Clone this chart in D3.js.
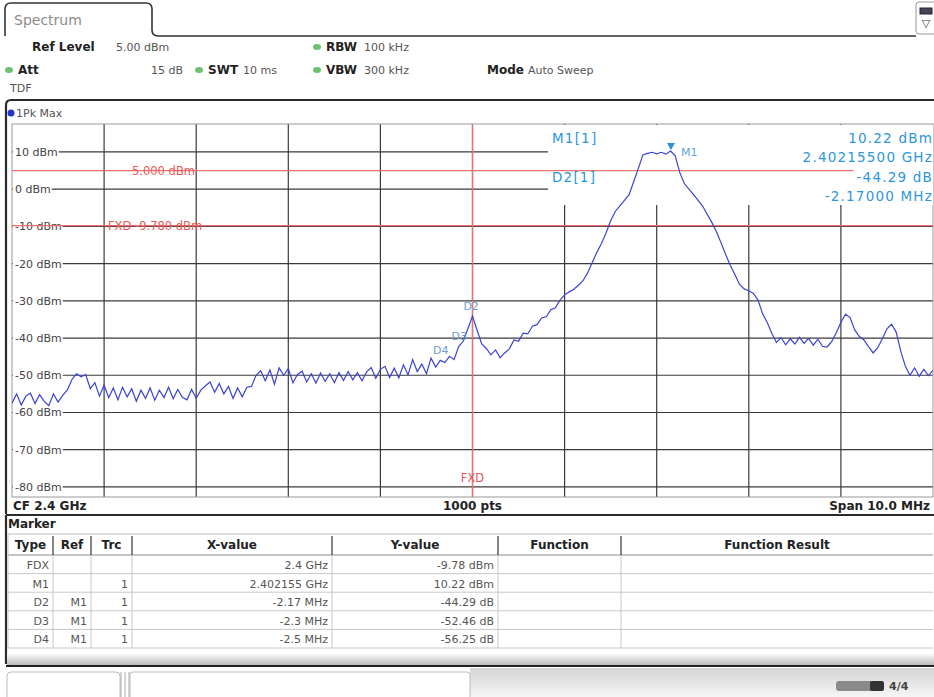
<!DOCTYPE html>
<html lang="en">
<head>
<meta charset="UTF-8">
<title>Spectrum</title>
<script src="https://d3js.org/d3.v7.min.js"></script>
<style>
    html, body { margin: 0; background: #fff; }
    body { width: 934px; height: 697px; overflow: hidden; }
    svg text { font-family: "DejaVu Sans", Verdana, sans-serif; }
    .key { font-weight: bold; font-size: 12px; fill: #222; }
    .val { font-size: 11px; fill: #555; }
    .tick { font-size: 11px; fill: #444; }
    .red { font-size: 11.5px; fill: #e85a5a; }
    .readout { font-size: 13.5px; fill: #2d96dc; letter-spacing: 1.2px; }
    .foot { font-weight: bold; font-size: 12px; fill: #222; }
    .th { font-weight: bold; font-size: 12px; fill: #222; }
    .td { font-size: 11px; fill: #555; }
</style>
</head>
<body>
<svg id="screen" width="934" height="697"></svg>
<script>
// ---- data ----
const centerGHz = 2.4;
const spanMHz = 10;
const sweepPts = 1000;
const traceStepMHz = 0.05;   // one value every 0.05 MHz from CF - span/2
const traceDbm = [
    -57.5, -55.0, -58.0, -55.6, -54.8, -57.6, -55.2, -57.0, -58.2, -55.0,
    -57.2, -55.4, -54.0, -51.2, -49.6, -50.4, -49.8, -53.6, -52.0, -55.6,
    -52.6, -56.0, -53.4, -56.6, -53.2, -55.8, -53.6, -57.0, -54.0, -56.2,
    -53.4, -56.7, -54.0, -56.0, -53.2, -56.3, -53.8, -55.9, -56.6, -53.8,
    -56.2, -54.0, -52.8, -51.8, -54.6, -52.2, -55.0, -53.0, -56.2, -53.4,
    -55.8, -53.2, -53.0, -50.0, -48.8, -51.5, -48.6, -52.4, -48.0, -50.0,
    -48.2, -52.0, -49.8, -48.9, -51.8, -49.6, -52.1, -49.4, -51.6, -49.6,
    -52.0, -49.3, -51.4, -49.0, -51.2, -49.3, -51.5, -49.1, -47.9, -50.8,
    -48.4, -47.6, -50.6, -48.1, -50.7, -47.2, -49.9, -45.8, -49.0, -47.0,
    -49.6, -45.4, -47.8, -46.0, -46.6, -44.9, -45.8, -42.3, -40.8, -37.5,
    -34.1, -37.9, -41.6, -42.8, -44.5, -43.2, -45.3, -44.0, -42.9, -40.5,
    -40.9, -38.7, -38.9, -36.8, -36.4, -34.6, -34.3, -32.4, -31.9, -29.8,
    -28.4, -27.6, -26.9, -25.8, -24.6, -22.5, -19.7, -17.0, -14.6, -11.8,
    -8.5, -6.0, -4.5, -3.0, -1.5, 2.0, 5.5, 9.2, 9.6, 9.9,
    9.5, 9.9, 9.4, 10.22, 9.0, 4.5, 1.5, 0.0, -1.5, -3.0,
    -4.6, -6.8, -9.0, -11.5, -14.5, -17.6, -20.5, -23.0, -25.6, -26.8,
    -27.3, -28.0, -29.8, -33.5, -35.8, -38.7, -41.2, -39.9, -41.8, -40.2,
    -41.6, -39.8, -41.4, -40.1, -41.9, -40.3, -42.2, -42.4, -41.0, -38.6,
    -35.8, -33.6, -34.5, -37.8, -39.6, -40.5, -42.3, -44.0, -42.6, -40.2,
    -37.5, -36.3, -38.4, -43.5, -47.6, -50.0, -48.0, -50.3, -48.4, -50.1,
    -48.7
];
const yTicks = [10, 0, -10, -20, -30, -40, -50, -60, -70, -80];
const yTop = 17.5, yBottom = -82.7;
const displayLineDbm = 5.0;
const fxdDbm = -9.78;
const fxdGHz = 2.4;

const m1GHz = 2.402155;
const m1Dbm = 10.22;
const deltaNames = ["D2", "D3", "D4"];
const deltaMHz = [-2.17, -2.3, -2.5];
const deltaDb = [-44.29, -52.46, -56.25];

const setupRow1 = [["Ref Level", "5.00 dBm"], ["RBW", "100 kHz"]];
const setupRow2 = [["Att", "15 dB"], ["SWT", "10 ms"], ["VBW", "300 kHz"], ["Mode", "Auto Sweep"]];

const tableHeads = ["Type", "Ref", "Trc", "X-value", "Y-value", "Function", "Function Result"];
const markerType = ["FDX", "M1", "D2", "D3", "D4"];
const markerRef = ["", "", "M1", "M1", "M1"];
const markerTrc = ["", "1", "1", "1", "1"];
const markerX = ["2.4 GHz", "2.402155 GHz", "-2.17 MHz", "-2.3 MHz", "-2.5 MHz"];
const markerY = ["-9.78 dBm", "10.22 dBm", "-44.29 dB", "-52.46 dB", "-56.25 dB"];

// ---- drawing ----
const svg = d3.select("#screen");
const plot = { left: 12, right: 933, top: 124, bottom: 497 };

const fStart = centerGHz - spanMHz / 2000;
const fStop = centerGHz + spanMHz / 2000;
const x = d3.scaleLinear().domain([fStart, fStop]).range([plot.left, plot.right]);
const y = d3.scaleLinear().domain([yTop, yBottom]).range([plot.top, plot.bottom]);

// tab + top bar
svg.append("path")
    .attr("d", "M5,36 V9 Q5,3 11,3 H146 Q152,3 152,9 V30 Q152,36 158,36 H916")
    .attr("fill", "none").attr("stroke", "#333").attr("stroke-width", 1.6);
svg.append("text").attr("x", 14).attr("y", 25).text("Spectrum")
    .style("font-size", "14px").style("fill", "#8c8c8c");
svg.append("rect").attr("x", 916).attr("y", 2).attr("width", 22).attr("height", 32).attr("rx", 3)
    .attr("fill", "#fff").attr("stroke", "#999");
svg.append("rect").attr("x", 920).attr("y", 8).attr("width", 12).attr("height", 6)
    .attr("fill", "#445").attr("stroke", "#223");
svg.append("text").attr("x", 926).attr("y", 27).attr("text-anchor", "middle").text("▽")
    .style("font-size", "11px").style("fill", "#445");

// setup summary
function setupItem(k, v, kx, vx, yy, dot) {
    if (dot) svg.append("ellipse").attr("cx", kx - 9).attr("cy", yy - 4).attr("rx", 4).attr("ry", 3).attr("fill", "#6cc070");
    svg.append("text").attr("class", "key").attr("x", kx).attr("y", yy).text(k);
    svg.append("text").attr("class", "val").attr("x", vx).attr("y", yy).text(v);
}
setupItem(setupRow1[0][0], setupRow1[0][1], 32, 116, 51, false);
setupItem(setupRow1[1][0], setupRow1[1][1], 326, 364, 51, true);
setupItem(setupRow2[0][0], setupRow2[0][1], 18, 151, 74, true);
setupItem(setupRow2[1][0], setupRow2[1][1], 208, 243, 74, true);
setupItem(setupRow2[2][0], setupRow2[2][1], 326, 364, 74, true);
setupItem(setupRow2[3][0], setupRow2[3][1], 487, 528, 74, false);
svg.append("text").attr("class", "val").attr("x", 10).attr("y", 92).text("TDF");

// diagram window frame
svg.append("path").attr("d", "M6,514 V105 Q6,100 11,100 H934")
    .attr("fill", "none").attr("stroke", "#2a2a2a").attr("stroke-width", 2.2);
svg.append("circle").attr("cx", 11).attr("cy", 113).attr("r", 3.5).attr("fill", "#2233cc");
svg.append("text").attr("class", "val").attr("x", 16).attr("y", 117).text("1Pk Max");

// grid
const grid = svg.append("g");
grid.selectAll(".hg").data(yTicks).enter().append("line")
    .attr("x1", plot.left).attr("x2", plot.right)
    .attr("y1", d => y(d)).attr("y2", d => y(d))
    .attr("stroke", "#3a3a3a").attr("stroke-width", 1.2);
const divs = d3.range(1, 10).map(i => fStart + i * (fStop - fStart) / 10);
grid.selectAll(".vg").data(divs).enter().append("line")
    .attr("x1", d => x(d)).attr("x2", d => x(d))
    .attr("y1", plot.top).attr("y2", plot.bottom)
    .attr("stroke", "#3a3a3a").attr("stroke-width", 1.2);
svg.append("rect").attr("x", plot.left).attr("y", plot.top)
    .attr("width", plot.right - plot.left).attr("height", plot.bottom - plot.top)
    .attr("fill", "none").attr("stroke", "#999").attr("stroke-width", 1);

// marker readout area covers the top right of the grid
svg.append("rect").attr("x", 548).attr("y", plot.top + 1).attr("width", plot.right - 548).attr("height", 80)
    .attr("fill", "#fff");

// y tick labels on white
const tl = svg.append("g");
yTicks.forEach(v => {
    const t = tl.append("text").attr("class", "tick").attr("x", 15).attr("y", y(v) + 4).text(v + " dBm");
    const b = t.node().getBBox();
    tl.insert("rect", "text").attr("x", b.x - 2).attr("y", b.y).attr("width", b.width + 3).attr("height", b.height)
        .attr("fill", "#fff");
});

// display line, FXD lines
const red = "#ec7070";
svg.append("line").attr("x1", plot.left).attr("x2", plot.right)
    .attr("y1", y(displayLineDbm)).attr("y2", y(displayLineDbm)).attr("stroke", red).attr("stroke-width", 1.3);
svg.append("line").attr("x1", plot.left).attr("x2", plot.right)
    .attr("y1", y(fxdDbm)).attr("y2", y(fxdDbm)).attr("stroke", red).attr("stroke-width", 1.3);
svg.append("line").attr("x1", x(fxdGHz)).attr("x2", x(fxdGHz))
    .attr("y1", plot.top).attr("y2", plot.bottom).attr("stroke", red).attr("stroke-width", 1.3);
svg.append("text").attr("class", "red").attr("x", 132).attr("y", y(displayLineDbm) + 4)
    .text(displayLineDbm.toFixed(3) + " dBm");
svg.append("text").attr("class", "red").attr("x", 108).attr("y", y(fxdDbm) + 4)
    .text("FXD  " + fxdDbm.toFixed(3) + " dBm");
svg.append("text").attr("class", "red").attr("x", x(fxdGHz)).attr("y", 482).attr("text-anchor", "middle").text("FXD");

// trace
svg.append("clipPath").attr("id", "pc").append("rect")
    .attr("x", plot.left).attr("y", plot.top).attr("width", plot.right - plot.left).attr("height", plot.bottom - plot.top);
const line = d3.line()
    .x((d, i) => x(fStart + i * traceStepMHz / 1000))
    .y(d => y(d));
svg.append("path").datum(traceDbm).attr("d", line).attr("clip-path", "url(#pc)")
    .attr("fill", "none").attr("stroke", "#3b44d0").attr("stroke-width", 1.2);

// marker readout text
const ro = svg.append("g");
function readout(txt, xx, yy, anchor) {
    const t = ro.append("text").attr("class", "readout").attr("x", xx).attr("y", yy)
        .attr("text-anchor", anchor).text(txt);
    if (anchor === "end") {
        const b = t.node().getBBox();
        ro.insert("rect", "text").attr("x", b.x - 3).attr("y", b.y).attr("width", b.width + 3).attr("height", b.height)
            .attr("fill", "#fff");
    }
}
readout("M1[1]", 552, 143, "start");
readout("D2[1]", 552, 182, "start");
readout(m1Dbm.toFixed(2) + " dBm", 933, 143, "end");
readout(m1GHz.toFixed(8) + " GHz", 933, 162, "end");
readout(deltaDb[0].toFixed(2) + " dB", 933, 182, "end");
readout(deltaMHz[0].toFixed(5) + " MHz", 933, 201, "end");

// markers on the trace
const mx = x(m1GHz), my = y(m1Dbm);
svg.append("path").attr("d", `M${mx - 4},${my - 8} H${mx + 4} L${mx},${my - 1} Z`).attr("fill", "#2d8fd8");
svg.append("text").attr("x", mx + 10).attr("y", my + 5).text("M1")
    .style("font-size", "11px").style("fill", "#5aa6e0");
deltaNames.forEach((n, i) => {
    const fx = x(m1GHz + deltaMHz[i] / 1000);
    const fy = y(m1Dbm + deltaDb[i]);
    svg.append("text").attr("x", fx).attr("y", fy - 6).attr("text-anchor", "middle").text(n)
        .style("font-size", "11px").style("fill", "#6e9fd2");
});

// footer of the diagram
svg.append("text").attr("class", "foot").attr("x", 13).attr("y", 510).text("CF " + centerGHz + " GHz");
svg.append("text").attr("class", "foot").attr("x", x(centerGHz)).attr("y", 510).attr("text-anchor", "middle").text(sweepPts + " pts");
svg.append("text").attr("class", "foot").attr("x", 930).attr("y", 510).attr("text-anchor", "end").text("Span " + spanMHz.toFixed(1) + " MHz");
svg.append("line").attr("x1", 6).attr("x2", 934).attr("y1", 515).attr("y2", 515).attr("stroke", "#2a2a2a").attr("stroke-width", 2.2);

// marker table window
svg.append("line").attr("x1", 6).attr("x2", 6).attr("y1", 515).attr("y2", 664).attr("stroke", "#2a2a2a").attr("stroke-width", 2.2);
svg.append("text").attr("class", "th").attr("x", 8).attr("y", 528).text("Marker");
const cols = [8, 53, 91, 132, 332, 498, 621, 933];
const rowTop = 534, headH = 21, rowH = 18.6;
const tbl = svg.append("g");
tbl.append("line").attr("x1", cols[0]).attr("x2", cols[7]).attr("y1", rowTop).attr("y2", rowTop).attr("stroke", "#bbb");
tbl.append("line").attr("x1", cols[0]).attr("x2", cols[7]).attr("y1", rowTop + headH).attr("y2", rowTop + headH).attr("stroke", "#888");
tableHeads.forEach((h, c) => {
    tbl.append("text").attr("class", "th").attr("x", (cols[c] + cols[c + 1]) / 2).attr("y", rowTop + 15)
        .attr("text-anchor", "middle").text(h);
    if (c > 0) tbl.append("line").attr("x1", cols[c]).attr("x2", cols[c]).attr("y1", rowTop + 2).attr("y2", rowTop + headH)
        .attr("stroke", "#333").attr("stroke-width", 1.2);
});
const rows = markerType.map((t, i) => [t, markerRef[i], markerTrc[i], markerX[i], markerY[i], "", ""]);
rows.forEach((r, i) => {
    const top = rowTop + headH + i * rowH;
    tbl.append("line").attr("x1", cols[0]).attr("x2", cols[7]).attr("y1", top + rowH).attr("y2", top + rowH).attr("stroke", "#c8c8c8");
    r.forEach((cell, c) => {
        if (cell) tbl.append("text").attr("class", "td").attr("x", cols[c + 1] - 4).attr("y", top + 14)
            .attr("text-anchor", "end").text(cell);
    });
    cols.slice(1, 7).forEach(cx => tbl.append("line").attr("x1", cx).attr("x2", cx)
        .attr("y1", top).attr("y2", top + rowH).attr("stroke", "#c8c8c8"));
});
tbl.append("line").attr("x1", cols[0]).attr("x2", cols[0]).attr("y1", rowTop).attr("y2", rowTop + headH + rows.length * rowH).attr("stroke", "#c8c8c8");

// window bottom with shadow
const defs = svg.append("defs");
const sh = defs.append("linearGradient").attr("id", "sh").attr("x1", 0).attr("x2", 0).attr("y1", 0).attr("y2", 1);
sh.append("stop").attr("offset", "0%").attr("stop-color", "#fff");
sh.append("stop").attr("offset", "100%").attr("stop-color", "#bbb");
svg.append("rect").attr("x", 7).attr("y", 653).attr("width", 927).attr("height", 12).attr("fill", "url(#sh)");
svg.append("line").attr("x1", 6).attr("x2", 934).attr("y1", 666).attr("y2", 666).attr("stroke", "#222").attr("stroke-width", 2.2);

// status bar
const sb = defs.append("linearGradient").attr("id", "sb").attr("x1", 0).attr("x2", 0).attr("y1", 0).attr("y2", 1);
sb.append("stop").attr("offset", "0%").attr("stop-color", "#d4d4d4");
sb.append("stop").attr("offset", "100%").attr("stop-color", "#f6f6f6");
svg.append("rect").attr("x", 470).attr("y", 668).attr("width", 464).attr("height", 29).attr("fill", "url(#sb)");
svg.append("rect").attr("x", 7).attr("y", 672).attr("width", 113).attr("height", 30).attr("rx", 4)
    .attr("fill", "#fff").attr("stroke", "#bbb");
svg.append("rect").attr("x", 130).attr("y", 672).attr("width", 340).attr("height", 30).attr("rx", 3)
    .attr("fill", "#fff").attr("stroke", "#bbb");
svg.append("path").attr("d", "M121,672 V697 M125,672 V697 M129,672 V697").attr("stroke", "#aaa");
svg.append("rect").attr("x", 836).attr("y", 681).attr("width", 40).attr("height", 10).attr("rx", 3).attr("fill", "#8a8a8a");
svg.append("rect").attr("x", 870).attr("y", 681).attr("width", 14).attr("height", 10).attr("rx", 2).attr("fill", "#333");
svg.append("text").attr("x", 889).attr("y", 690).text("4/4").style("font-size", "11px").style("font-weight", "bold").style("fill", "#444");
</script>
</body>
</html>
